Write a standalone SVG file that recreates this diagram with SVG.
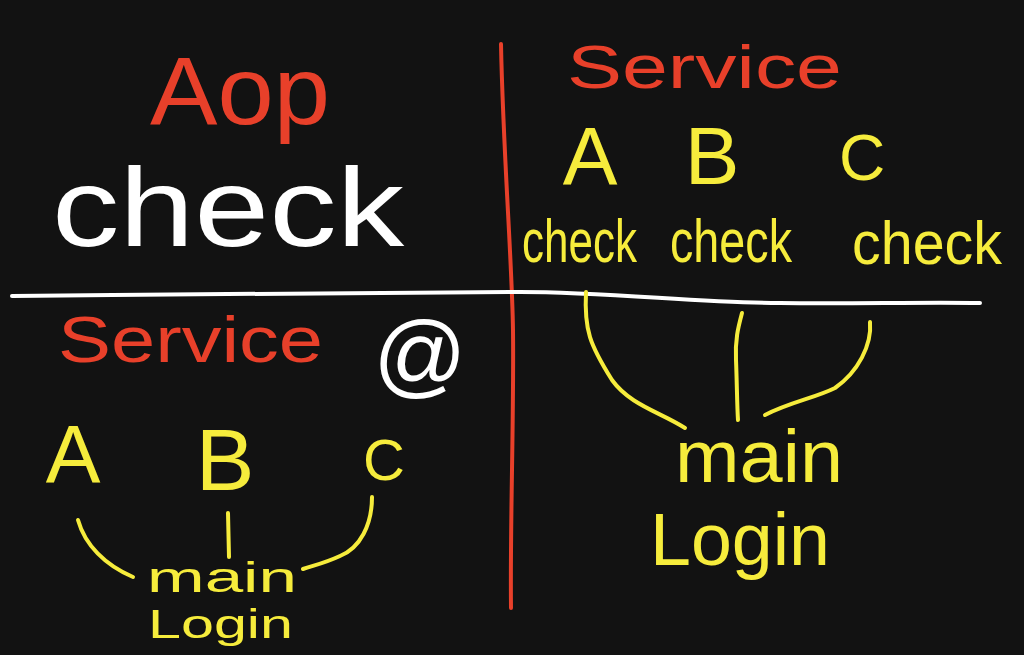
<svg xmlns="http://www.w3.org/2000/svg" width="1024" height="655" viewBox="0 0 1024 655">
<style>
text{font-family:"Liberation Sans","DejaVu Sans",sans-serif;}
.red{fill:#e8402a;}
.yel{fill:#f6ec3c;}
.wht{fill:#ffffff;}
.ln{fill:none;stroke-linecap:round;stroke-linejoin:round;stroke-width:4;}
.lr{stroke:#e8402a;}
.ly{stroke:#f6ec3c;}
.lw{stroke:#ffffff;}
</style>
<rect x="0" y="0" width="1024" height="655" fill="#121212"/>
<g id="connectors">
  <path class="ln lr" d="M501,44 C503,150 512,260 513,330 C514,420 510,520 511,608"/>
  <path class="ln lw" d="M12,296 C180,294 350,293 512,292 C600,291 700,303 780,303 C850,304 920,302 980,303"/>
  <path class="ln ly" d="M586,292 C584,330 590,345 612,380 C630,405 660,412 685,428"/>
  <path class="ln ly" d="M742,313 C738,328 735,340 736,360 C737,385 737,405 738,420"/>
  <path class="ln ly" d="M870,322 C872,345 858,372 835,388 C815,398 790,402 765,415"/>
  <path class="ln ly" d="M78,520 C85,545 105,565 133,577"/>
  <path class="ln ly" d="M228,513 L229,557"/>
  <path class="ln ly" d="M372,497 C372,525 360,548 340,556 C325,563 315,565 303,569"/>
</g>
<g id="aop"><text class="red" x="150" y="124" font-size="96" textLength="180" lengthAdjust="spacingAndGlyphs">Aop</text></g>
<g id="check-title"><text class="wht" x="52" y="246" font-size="112" textLength="352" lengthAdjust="spacingAndGlyphs">check</text></g>
<g id="service-right"><text class="red" x="567" y="88" font-size="62" textLength="275" lengthAdjust="spacingAndGlyphs">Service</text></g>
<g id="a-right"><text class="yel" x="590" y="184" font-size="82" text-anchor="middle">A</text></g>
<g id="b-right"><text class="yel" x="712" y="184" font-size="82" text-anchor="middle">B</text></g>
<g id="c-right"><text class="yel" x="862" y="180" font-size="64" text-anchor="middle">C</text></g>
<g id="check-a"><text class="yel" x="522" y="262" font-size="62" textLength="115" lengthAdjust="spacingAndGlyphs">check</text></g>
<g id="check-b"><text class="yel" x="670" y="262" font-size="62" textLength="122" lengthAdjust="spacingAndGlyphs">check</text></g>
<g id="check-c"><text class="yel" x="852" y="264" font-size="62" textLength="150" lengthAdjust="spacingAndGlyphs">check</text></g>
<g id="service-left"><text class="red" x="58" y="362" font-size="64" textLength="265" lengthAdjust="spacingAndGlyphs">Service</text></g>
<g id="at"><text class="wht" x="420" y="386" font-size="92" text-anchor="middle">@</text></g>
<g id="a-left"><text class="yel" x="73" y="482" font-size="82" text-anchor="middle">A</text></g>
<g id="b-left"><text class="yel" x="225" y="490" font-size="88" text-anchor="middle">B</text></g>
<g id="c-left"><text class="yel" x="384" y="480" font-size="58" text-anchor="middle">C</text></g>
<g id="main-left"><text class="yel" x="147" y="592" font-size="42" textLength="150" lengthAdjust="spacingAndGlyphs">main</text></g>
<g id="login-left"><text class="yel" x="148" y="638" font-size="40" textLength="145" lengthAdjust="spacingAndGlyphs">Login</text></g>
<g id="main-right"><text class="yel" x="675" y="482" font-size="74" textLength="168" lengthAdjust="spacingAndGlyphs">main</text></g>
<g id="login-right"><text class="yel" x="650" y="565" font-size="74" textLength="180" lengthAdjust="spacingAndGlyphs">Login</text></g>
</svg>
